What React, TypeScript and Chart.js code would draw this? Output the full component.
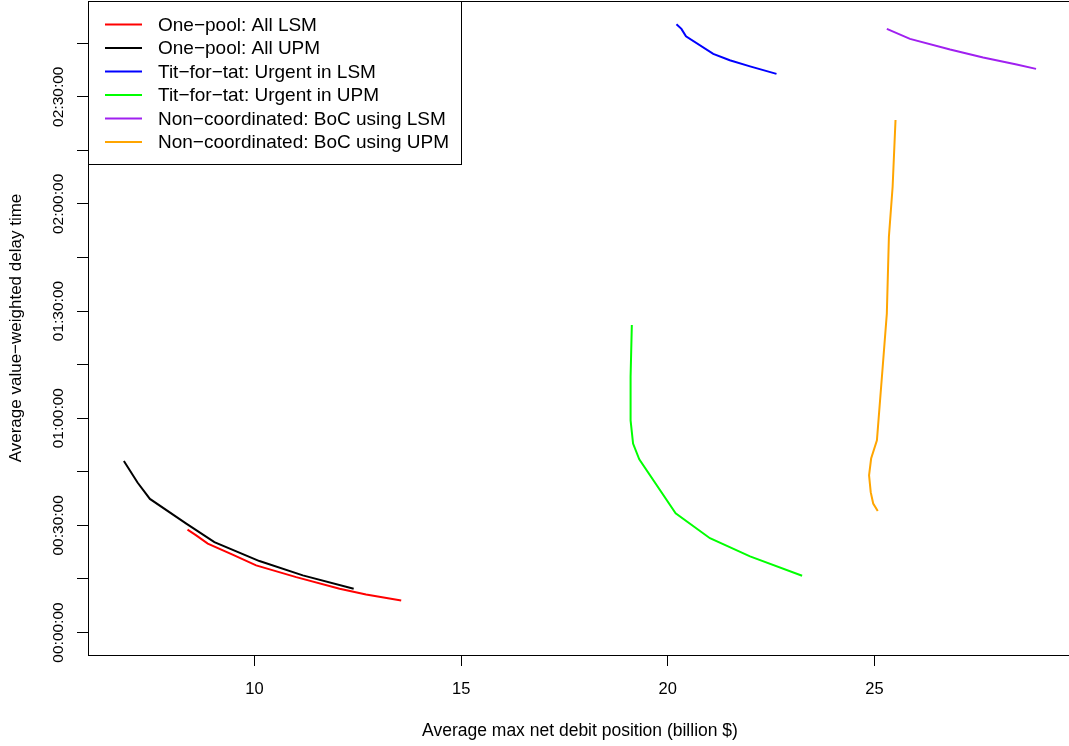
import React, { useEffect, useRef } from "react";
import { Chart, registerables } from "chart.js";

Chart.register(...registerables);

// ---- data (x: billion $, y: minutes) ----
const SERIES_LABELS = [
  "One\u2212pool: All LSM",
  "One\u2212pool: All UPM",
  "Tit\u2212for\u2212tat: Urgent in LSM",
  "Tit\u2212for\u2212tat: Urgent in UPM",
  "Non\u2212coordinated: BoC using LSM",
  "Non\u2212coordinated: BoC using UPM",
];
const SERIES_COLORS = ["#FF0000", "#000000", "#0000FF", "#00FF00", "#A020F0", "#FFA500"];

const ONEPOOL_LSM_X = [8.38, 8.59, 8.87, 9.47, 10.04, 11.01, 12.06, 12.70, 13.55];
const ONEPOOL_LSM_Y = [28.8, 27.2, 24.9, 21.8, 18.8, 15.5, 12.25, 10.65, 8.97];

const ONEPOOL_UPM_X = [6.84, 7.17, 7.47, 8.35, 9.03, 10.12, 11.17, 12.40];
const ONEPOOL_UPM_Y = [48.0, 42.0, 37.4, 30.5, 25.3, 20.0, 16.0, 12.25];

const TFT_LSM_X = [20.21, 20.33, 20.44, 21.10, 21.50, 21.99, 22.63];
const TFT_LSM_Y = [170.3, 169.0, 166.9, 162.0, 160.2, 158.5, 156.4];

const TFT_UPM_X = [19.13, 19.10, 19.10, 19.16, 19.31, 20.19, 21.02, 21.99, 23.25];
const TFT_UPM_Y = [86.1, 71.6, 59.4, 52.9, 48.5, 33.4, 26.4, 21.3, 15.9];

const NC_LSM_X = [25.30, 25.86, 26.83, 27.63, 28.44, 28.91];
const NC_LSM_Y = [169.0, 166.2, 163.2, 161.0, 159.0, 157.8];

const NC_UPM_X = [25.51, 25.44, 25.35, 25.30, 25.20, 25.06, 24.92, 24.87, 24.91, 24.97, 25.08];
const NC_UPM_Y = [143.5, 124.8, 110.8, 89.3, 74.4, 53.8, 48.7, 44.0, 39.3, 36.1, 34.0];

const SERIES_X = [ONEPOOL_LSM_X, ONEPOOL_UPM_X, TFT_LSM_X, TFT_UPM_X, NC_LSM_X, NC_UPM_X];
const SERIES_Y = [ONEPOOL_LSM_Y, ONEPOOL_UPM_Y, TFT_LSM_Y, TFT_UPM_Y, NC_LSM_Y, NC_UPM_Y];

const X_TICKS = [10, 15, 20, 25];
const Y_TICKS = [0, 15, 30, 45, 60, 75, 90, 105, 120, 135, 150, 165];
const Y_LABELED = [0, 30, 60, 90, 120, 150];

const X_MIN = 5.972;
const X_MAX = 29.78;
const Y_MIN = -6.3;
const Y_MAX = 176.8;

const X_TITLE = "Average max net debit position (billion $)";
const Y_TITLE = "Average value\u2212weighted delay time";

const FONT = "'Liberation Sans', Arial, Helvetica, sans-serif";

function fmtTime(min: number): string {
  const total = Math.round(min * 60);
  const h = Math.floor(total / 3600);
  const m = Math.floor((total % 3600) / 60);
  const s = total % 60;
  const p = (n: number) => String(n).padStart(2, "0");
  return `${p(h)}:${p(m)}:${p(s)}`;
}

const rDecor = {
  id: "rDecor",
  afterDraw(chart: any) {
    const ctx = chart.ctx;
    const a = chart.chartArea;
    const ys = chart.scales.y;
    ctx.save();
    // plot box
    ctx.strokeStyle = "#000";
    ctx.lineWidth = 1;
    ctx.strokeRect(a.left + 0.5, a.top + 0.5, a.right - a.left, a.bottom - a.top);

    // y tick labels, rotated
    ctx.fillStyle = "#000";
    ctx.font = `15.5px ${FONT}`;
    ctx.textAlign = "center";
    ctx.textBaseline = "middle";
    for (const v of Y_LABELED) {
      const py = ys.getPixelForValue(v);
      ctx.save();
      ctx.translate(59, py);
      ctx.rotate(-Math.PI / 2);
      ctx.fillText(fmtTime(v), 0, 0);
      ctx.restore();
    }

    // legend
    const lx = a.left;
    const ly = a.top;
    const lw = 373;
    const lh = 163;
    ctx.fillStyle = "#fff";
    ctx.fillRect(lx + 0.5, ly + 0.5, lw, lh);
    ctx.strokeStyle = "#000";
    ctx.lineWidth = 1;
    ctx.strokeRect(lx + 0.5, ly + 0.5, lw, lh);
    ctx.font = `19px ${FONT}`;
    ctx.textAlign = "left";
    ctx.textBaseline = "middle";
    chart.data.datasets.forEach((ds: any, i: number) => {
      const rowY = ly + 23.5 + i * 23.5;
      ctx.strokeStyle = ds.borderColor;
      ctx.lineWidth = 2;
      ctx.beginPath();
      ctx.moveTo(lx + 17, rowY);
      ctx.lineTo(lx + 54, rowY);
      ctx.stroke();
      ctx.fillStyle = "#000";
      ctx.fillText(ds.label, lx + 70, rowY + 1);
    });
    ctx.restore();
  },
};

export default function App() {
  const ref = useRef<HTMLCanvasElement | null>(null);

  useEffect(() => {
    if (!ref.current) return;
    const datasets = SERIES_LABELS.map((label, i) => ({
      label,
      data: SERIES_X[i].map((x, j) => ({ x, y: SERIES_Y[i][j] })),
      borderColor: SERIES_COLORS[i],
      backgroundColor: SERIES_COLORS[i],
      borderWidth: 2,
      pointRadius: 0,
      tension: 0,
      fill: false,
    }));

    const chart = new Chart(ref.current, {
      type: "line",
      data: { datasets },
      plugins: [rDecor],
      options: {
        responsive: false,
        animation: false,
        devicePixelRatio: 1,
        layout: { padding: { top: 1, left: 0, right: 1, bottom: 0 } },
        plugins: {
          legend: { display: false },
          tooltip: { enabled: false },
        },
        scales: {
          x: {
            type: "linear",
            min: X_MIN,
            max: X_MAX,
            afterBuildTicks: (s: any) => {
              s.ticks = X_TICKS.map((v) => ({ value: v }));
            },
            afterFit: (s: any) => {
              s.height = 91;
            },
            grid: {
              drawOnChartArea: false,
              drawTicks: true,
              tickLength: 11,
              color: "#000",
              lineWidth: 1,
            },
            border: { display: false },
            ticks: {
              color: "#000",
              font: { family: FONT, size: 16.5 },
              padding: 14,
              maxRotation: 0,
              autoSkip: false,
              callback: (v: any) => String(v),
            },
            title: {
              display: true,
              text: X_TITLE,
              color: "#000",
              font: { family: FONT, size: 17.5 },
              padding: { top: 0, bottom: 4.5 },
            },
          },
          y: {
            type: "linear",
            min: Y_MIN,
            max: Y_MAX,
            afterBuildTicks: (s: any) => {
              s.ticks = Y_TICKS.map((v) => ({ value: v }));
            },
            afterFit: (s: any) => {
              s.width = 88;
            },
            grid: {
              drawOnChartArea: false,
              drawTicks: true,
              tickLength: 11,
              color: "#000",
              lineWidth: 1,
            },
            border: { display: false },
            ticks: { display: false, autoSkip: false },
            title: {
              display: true,
              text: Y_TITLE,
              color: "#000",
              font: { family: FONT, size: 17 },
              padding: { top: 6, bottom: 0 },
            },
          },
        },
      },
    });
    return () => chart.destroy();
  }, []);

  return (
    <div
      style={{
        position: "fixed",
        left: 0,
        top: 0,
        width: 1069,
        height: 746,
        overflow: "hidden",
        background: "#fff",
      }}
    >
      <canvas ref={ref} width={1073} height={746} style={{ display: "block" }} />
    </div>
  );
}
